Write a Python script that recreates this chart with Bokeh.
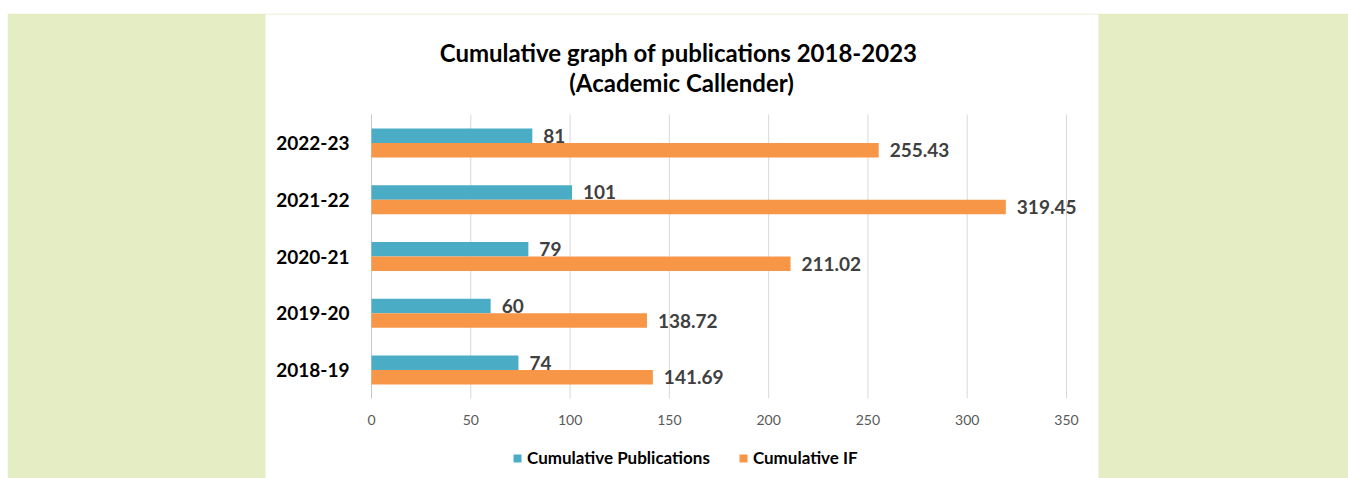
from bokeh.plotting import figure
from bokeh.models import ColumnDataSource, Range1d, Legend, LegendItem
from bokeh.transform import dodge
from bokeh.core.properties import value
from bokeh.embed import file_html
from bokeh.resources import INLINE

# ---- data ----
years = ["2018-19", "2019-20", "2020-21", "2021-22", "2022-23"]
publications = [74, 60, 79, 101, 81]
impact_factor = [141.69, 138.72, 211.02, 319.45, 255.43]
series_names = ["Cumulative Publications", "Cumulative IF"]
x_ticks = [0, 50, 100, 150, 200, 250, 300, 350]
title_line1 = "Cumulative graph  of publications 2018-2023"
title_line2 = "(Academic Callender)"

# ---- style / layout (page pixels) ----
BLUE = "#4BACC6"
ORANGE = "#F79646"
GREEN = "#E4EDC4"
GRID = "#D9D9D9"
FONT = "Lato"
W, H = 1348, 478
FRAME_L, FRAME_T = 7, 13            # green/white area starts here
PANEL_L, PANEL_R, PANEL_T = 265, 1098, 14
PLOT_L, PLOT_R, PLOT_T, PLOT_B = 371, 1066, 114, 398
X_MAX = 350

n = len(years)
k = (PLOT_R - PLOT_L) / X_MAX
pitch = (PLOT_B - PLOT_T) / n
x_range = Range1d(-(PLOT_L - FRAME_L) / k, X_MAX + (W - PLOT_R) / k)
y_range = Range1d(-0.5 - (H - PLOT_B) / pitch, n - 0.5 + (PLOT_T - FRAME_T) / pitch)

source = ColumnDataSource(dict(
    year=years,
    y=list(range(n)),
    pubs=publications,
    ifs=impact_factor,
    pubs_lbl=[str(v) for v in publications],
    ifs_lbl=["%.2f" % v for v in impact_factor],
))

p = figure(width=W, height=H, x_range=x_range, y_range=y_range,
           x_axis_location=None, y_axis_location=None,
           output_backend="svg", toolbar_location=None,
           min_border_left=FRAME_L, min_border_top=FRAME_T,
           min_border_right=0, min_border_bottom=0,
           background_fill_color="white", border_fill_color="white",
           outline_line_color=None)
p.grid.visible = False
p.extra_x_ranges = {"px": Range1d(FRAME_L, W)}
p.extra_y_ranges = {"px": Range1d(H, FRAME_T)}

# green page background around the white chart panel
p.quad(left=[FRAME_L, PANEL_R, PANEL_L], right=[PANEL_L, W, PANEL_R],
       top=[FRAME_T, FRAME_T, FRAME_T], bottom=[H, H, PANEL_T],
       x_range_name="px", y_range_name="px", fill_color=GREEN, line_color=None)

# vertical grid lines + axis line
p.segment(x0=x_ticks, x1=x_ticks, y0=-0.5, y1=n - 0.5, line_color=GRID, line_width=1)
p.segment(x0=0, x1=0, y0=-0.5, y1=n - 0.5, line_color="#C8C8C8", line_width=1)

off = 0.1275
bh = 0.255
r1 = p.hbar(y=dodge("y", off), right="pubs", left=0, height=bh,
            source=source, fill_color=BLUE, line_color=None)
r2 = p.hbar(y=dodge("y", -off), right="ifs", left=0, height=bh,
            source=source, fill_color=ORANGE, line_color=None)

# data labels
for col, lbl, o in (("pubs", "pubs_lbl", off), ("ifs", "ifs_lbl", -off)):
    p.text(x=col, y=dodge("y", o), text=lbl, source=source, x_offset=11,
           text_baseline="middle", text_align="left", text_font=value(FONT),
           text_font_style="bold", text_font_size="19px", text_color="#404040")

# category labels (left)
p.text(x=PLOT_L - 22, y="y", text="year", source=source, x_range_name="px",
       text_align="right", text_baseline="middle", text_font=value(FONT),
       text_font_style="bold", text_font_size="19px", text_color="#000000")

# value axis tick labels
p.text(x=x_ticks, y=[PLOT_B + 21.5] * len(x_ticks), text=[str(t) for t in x_ticks],
       y_range_name="px", text_align="center", text_baseline="middle",
       text_font=value(FONT), text_font_size="14px", text_color="#595959")

# title
p.text(x=[681, 681], y=[52, 82], text=[title_line1, title_line2],
       x_range_name="px", y_range_name="px", text_align="center",
       text_baseline="alphabetic", text_font=value(FONT), text_font_style="bold",
       text_font_size="24px", text_color="#000000")

legend = Legend(items=[LegendItem(label=series_names[0], renderers=[r1]),
                       LegendItem(label=series_names[1], renderers=[r2])],
                orientation="horizontal", location=(505, 10),
                glyph_width=10, glyph_height=10, label_standoff=5, spacing=28,
                label_height=20,
                label_text_font=FONT, label_text_font_style="bold",
                label_text_font_size="17px", label_text_color="#000000",
                border_line_color=None, background_fill_alpha=0,
                padding=0, margin=0)
p.add_layout(legend, "center")

open("out.html", "w").write(file_html(p, INLINE))
